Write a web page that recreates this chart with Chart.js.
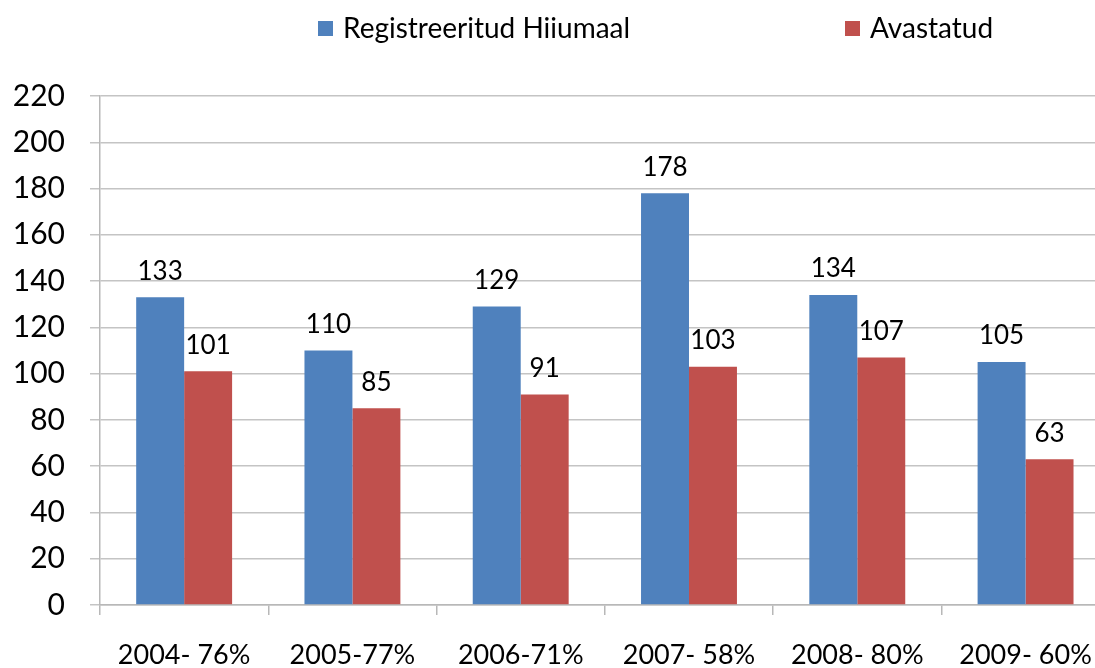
<!DOCTYPE html>
<html>
<head>
<meta charset="utf-8">
<script src="https://cdn.jsdelivr.net/npm/chart.js@4"></script>
<style>
    html, body { margin: 0; padding: 0; background: #fff; overflow: hidden; }
    #wrap { width: 1116px; height: 668px; position: relative; }
</style>
</head>
<body>
<div id="wrap"><canvas id="graafik"></canvas></div>
<script>
// Registreeritud ja avastatud kuriteod

const aastad = ["2004- 76%", "2005-77%", "2006-71%", "2007- 58%", "2008- 80%", "2009- 60%"];
const registreeritud = [133, 110, 129, 178, 134, 105];
const avastatud = [101, 85, 91, 103, 107, 63];
const yTicks = [0, 20, 40, 60, 80, 100, 120, 140, 160, 180, 200, 220];

const font = "Lato, 'Liberation Sans', sans-serif";

// vaartused tulpade kohale
const tulbaSildid = {
    id: "tulbaSildid",
    afterDatasetsDraw(chart) {
        const ctx = chart.ctx;
        ctx.save();
        ctx.font = "26px " + font;
        ctx.fillStyle = "#000";
        ctx.textAlign = "center";
        ctx.textBaseline = "middle";
        chart.data.datasets.forEach((ds, i) => {
            chart.getDatasetMeta(i).data.forEach((bar, j) => {
                ctx.fillText(ds.data[j], bar.x, bar.y - 26);
            });
        });
        ctx.restore();
    },
};

// legend ulal
const legend = {
    id: "omaLegend",
    afterDraw(chart) {
        const ctx = chart.ctx;
        ctx.save();
        ctx.font = "28px " + font;
        ctx.textBaseline = "middle";
        ctx.textAlign = "left";
        const kohad = [318, 845];
        chart.data.datasets.forEach((ds, i) => {
            const x = kohad[i];
            ctx.fillStyle = ds.backgroundColor;
            ctx.fillRect(x, 21, 15, 15);
            ctx.fillStyle = "#000";
            ctx.fillText(ds.label, x + 25, 29);
        });
        ctx.restore();
    },
};

const data = {
    labels: aastad,
    datasets: [
        {
            label: "Registreeritud Hiiumaal",
            backgroundColor: "#4f81bd",
            data: registreeritud,
        },
        {
            label: "Avastatud",
            backgroundColor: "#c0504d",
            data: avastatud,
        },
    ],
};

const config = {
    type: "bar",
    data,
    options: {
        responsive: true,
        maintainAspectRatio: false,
        animation: false,
        layout: { padding: { top: 96, right: 2, left: 0, bottom: 0 } },
        datasets: { bar: { categoryPercentage: 0.57, barPercentage: 1.0 } },
        plugins: {
            legend: { display: false },
            tooltip: { enabled: false },
        },
        scales: {
            x: {
                afterFit: (s) => { s.height = 63; },
                grid: {
                    offset: true,
                    drawOnChartArea: false,
                    drawTicks: true,
                    tickLength: 10,
                    color: "#b8b8b8",
                    lineWidth: 1.5,
                },
                border: { color: "#b8b8b8", width: 1.5 },
                ticks: {
                    color: "#000",
                    font: { family: font, size: 27 },
                    padding: 24,
                    maxRotation: 0,
                },
            },
            y: {
                min: 0,
                max: 220,
                afterFit: (s) => { s.width = 100; },
                afterBuildTicks: (s) => { s.ticks = yTicks.map((v) => ({ value: v })); },
                grid: {
                    color: "#c4c4c4",
                    lineWidth: 1.5,
                    tickLength: 10,
                },
                border: { color: "#b8b8b8", width: 1.5 },
                ticks: {
                    color: "#000",
                    font: { family: font, size: 30 },
                    padding: 25,
                },
            },
        },
    },
    plugins: [tulbaSildid, legend],
};

var graafik = new Chart(document.getElementById("graafik"), config);
</script>
</body>
</html>
